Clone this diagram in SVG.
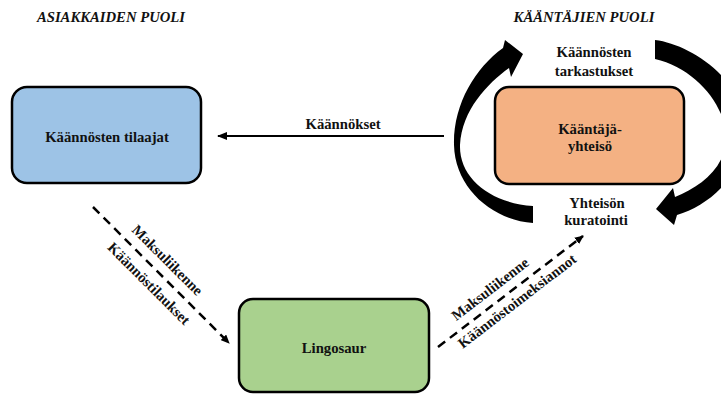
<svg xmlns="http://www.w3.org/2000/svg" width="721" height="396" viewBox="0 0 721 396">
<style>
.t{font-family:'Liberation Serif','DejaVu Serif',serif;font-weight:700;font-size:14.7px;fill:#111;text-anchor:middle}
.h{font-style:italic}
.box{stroke:#000;stroke-width:2.5}
.ln{stroke:#000;stroke-width:2;fill:none}
.dash{stroke:#000;stroke-width:2.5;fill:none;stroke-dasharray:9,6}
.cyc{fill:#000}
</style>
<defs>
<marker id="ah" markerWidth="10" markerHeight="8" refX="9" refY="4" orient="auto" markerUnits="userSpaceOnUse"><path d="M0,0 L10,4 L0,8 z" fill="#000"/></marker>
<marker id="ahd" markerWidth="9" markerHeight="8" refX="8" refY="4" orient="auto" markerUnits="userSpaceOnUse"><path d="M0,0 L9,4 L0,8 z" fill="#000"/></marker>
</defs>
<g font-family="Liberation Serif, DejaVu Serif, serif">
<text class="t h" x="111" y="22">ASIAKKAIDEN PUOLI</text>
<text class="t h" x="584" y="22">KÄÄNTÄJIEN PUOLI</text>
<g id="connectors">
<line class="ln" x1="444" y1="136" x2="218" y2="136" marker-end="url(#ah)"/>
<text class="t" x="343" y="129">Käännökset</text>
<line class="dash" x1="93" y1="207" x2="229" y2="343" marker-end="url(#ahd)"/>
<text class="t" transform="translate(167.5,260) rotate(45)" y="5">Maksuliikenne</text>
<text class="t" transform="translate(149,283.5) rotate(45)" y="5">Käännöstilaukset</text>
<line class="dash" x1="438" y1="347" x2="583" y2="236" marker-end="url(#ahd)"/>
<text class="t" transform="translate(490,289) rotate(-37.5)" y="5">Maksuliikenne</text>
<text class="t" transform="translate(517,301) rotate(-37.5)" y="5">Käännöstoimeksiannot</text>
</g>
<g id="cycle">
<path class="cyc" d="M533,223 C492,220 455,188 454,145 C453,105 475,68 503,48 L505,40 L523,54 L511,77 L509,68 C487,84 462,110 460,145 C459,178 490,203 533,206 Z"/>
<path class="cyc" d="M655,40 C690,44 745,80 745,128 C745,175 710,205 677,215 L674,225 L656,209 L673,188 L675,197 C700,187 726,168 726,138 C726,105 695,68 655,59 Z"/>
<text class="t" x="594" y="57">Käännösten</text>
<text class="t" x="594" y="76">tarkastukset</text>
<text class="t" x="597" y="208">Yhteisön</text>
<text class="t" x="596" y="225">kuratointi</text>
</g>
<g id="tilaajat">
<rect class="box" x="12" y="87" width="189" height="96" rx="15" fill="#9DC3E6"/>
<text class="t" x="107" y="142">Käännösten tilaajat</text>
</g>
<g id="yhteiso">
<rect class="box" x="495" y="87" width="189" height="97" rx="14" fill="#F4B183"/>
<text class="t" x="590" y="134">Kääntäjä-</text>
<text class="t" x="590" y="151">yhteisö</text>
</g>
<g id="lingosaur">
<rect class="box" x="239" y="299" width="190" height="93" rx="14" fill="#A9D18E"/>
<text class="t" x="334" y="353">Lingosaur</text>
</g>
</g>
</svg>
